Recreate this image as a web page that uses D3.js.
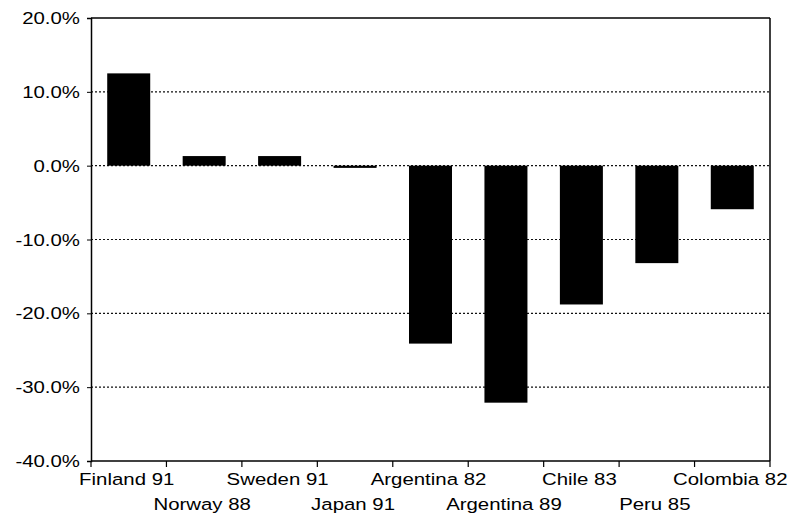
<!DOCTYPE html>
<body style="margin: 0; padding: 0; background: #fff; overflow: hidden;">
<script src="https://cdn.jsdelivr.net/npm/d3@7"></script>
<script>

    const categories = ["Finland 91", "Norway 88", "Sweden 91", "Japan 91", "Argentina 82",
                        "Argentina 89", "Chile 83", "Peru 85", "Colombia 82"]
    const values = [12.5, 1.3, 1.3, -0.3, -24.1, -32.1, -18.8, -13.2, -5.9]
    const yTicks = [20, 10, 0, -10, -20, -30, -40]

    const width = 791, height = 517
    const margin = {top: 18, right: 21, bottom: 56, left: 91}
    const stretch = 1.2 // the original type is set wide

    const svg = d3.select("body").append("svg")
      .attr("width", width)
      .attr("height", height)
      .style("font-family", "'Liberation Sans', Arial, sans-serif")

    const x = d3.scaleBand()
      .domain(categories)
      .range([margin.left, width - margin.right])
      .paddingInner(0.43)
      .paddingOuter(0.215)

    const y = d3.scaleLinear()
      .domain([-40, 20])
      .range([height - margin.bottom, margin.top])

    // dotted gridlines
    svg.append("g")
      .selectAll("line")
      .data(yTicks.filter(d => d > -40 && d < 20))
      .enter().append("line")
      .attr("x1", margin.left)
      .attr("x2", width - margin.right)
      .attr("y1", d => y(d))
      .attr("y2", d => y(d))
      .attr("stroke", "#111")
      .attr("stroke-width", 1.2)
      .attr("stroke-dasharray", "2,2")

    // bars
    svg.append("g")
      .selectAll("rect")
      .data(values)
      .enter().append("rect")
      .attr("x", (d, i) => x(categories[i]))
      .attr("width", x.bandwidth())
      .attr("y", d => y(Math.max(0, d)))
      .attr("height", d => Math.abs(y(d) - y(0)))
      .attr("fill", "#000")

    // frame: top and right
    svg.append("line")
      .attr("x1", margin.left).attr("x2", width - margin.right)
      .attr("y1", y(20)).attr("y2", y(20))
      .attr("stroke", "#000").attr("stroke-width", 1.5)
    svg.append("line")
      .attr("x1", width - margin.right).attr("x2", width - margin.right)
      .attr("y1", y(20)).attr("y2", y(-40))
      .attr("stroke", "#000").attr("stroke-width", 1.5)

    // y axis
    const yAxis = svg.append("g")
      .attr("transform", `translate(${margin.left},0)`)
      .call(d3.axisLeft(y).tickValues(yTicks).tickSize(4).tickFormat(""))
    yAxis.select(".domain").attr("stroke-width", 1.5)

    svg.append("g")
      .selectAll("g")
      .data(yTicks)
      .enter().append("g")
      .attr("transform", d => `translate(${margin.left - 11},${y(d)}) scale(${stretch},1)`)
      .append("text")
      .attr("text-anchor", "end")
      .attr("dy", "0.36em")
      .attr("font-size", 17)
      .attr("fill", "#000")
      .text(d => d.toFixed(1) + "%")

    // x axis: ticks at band boundaries
    const step = x.step()
    const bounds = d3.range(categories.length + 1).map(i => margin.left + i * step)
    svg.append("line")
      .attr("x1", margin.left).attr("x2", width - margin.right)
      .attr("y1", y(-40)).attr("y2", y(-40))
      .attr("stroke", "#000").attr("stroke-width", 1.5)
    svg.append("g")
      .selectAll("line")
      .data(bounds)
      .enter().append("line")
      .attr("x1", d => d).attr("x2", d => d)
      .attr("y1", y(-40)).attr("y2", y(-40) + 6)
      .attr("stroke", "#000").attr("stroke-width", 1.2)

    svg.append("g")
      .selectAll("g")
      .data(categories)
      .enter().append("g")
      .attr("transform", (d, i) =>
        `translate(${x(d) + x.bandwidth() / 2 - 2},${i % 2 === 0 ? 485 : 510}) scale(${stretch},1)`)
      .append("text")
      .attr("text-anchor", "middle")
      .attr("font-size", 17)
      .attr("fill", "#000")
      .text(d => d)

</script>
</body>
